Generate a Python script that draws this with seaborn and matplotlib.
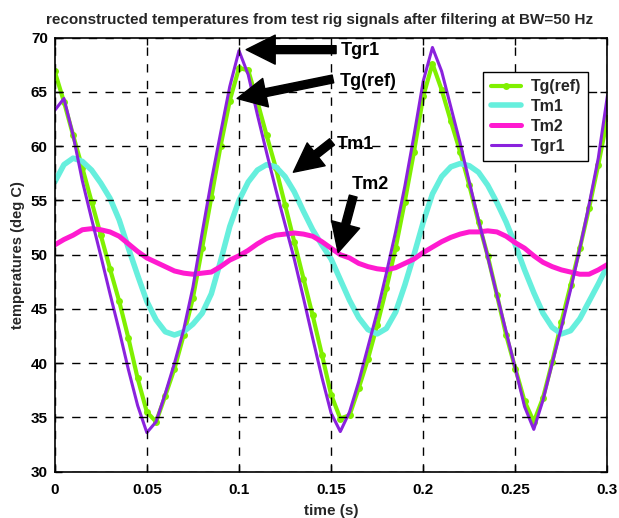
import numpy as np
import pandas as pd
import matplotlib
matplotlib.use("Agg")
import matplotlib.pyplot as plt
import seaborn as sns

# ---------------- data ----------------
time_s = [0.000, 0.005, 0.010, 0.015, 0.020, 0.025, 0.030, 0.035, 0.040, 0.045,
          0.050, 0.055, 0.060, 0.065, 0.070, 0.075, 0.080, 0.085, 0.090, 0.095,
          0.100, 0.105, 0.110, 0.115, 0.120, 0.125, 0.130, 0.135, 0.140, 0.145,
          0.150, 0.155, 0.160, 0.165, 0.170, 0.175, 0.180, 0.185, 0.190, 0.195,
          0.200, 0.205, 0.210, 0.215, 0.220, 0.225, 0.230, 0.235, 0.240, 0.245,
          0.250, 0.255, 0.260, 0.265, 0.270, 0.275, 0.280, 0.285, 0.290, 0.295,
          0.300]

tg_ref = [66.9, 64.1, 61.0, 58.0, 54.9, 51.8, 48.7, 45.7, 42.3, 38.6,
          35.5, 34.6, 37.0, 39.5, 42.6, 46.0, 50.6, 55.3, 60.0, 64.2,
          67.2, 67.0, 64.1, 61.0, 58.0, 54.6, 51.2, 47.8, 44.4, 40.8,
          37.1, 34.9, 35.2, 37.7, 40.4, 43.5, 46.9, 50.6, 54.9, 59.5,
          64.6, 67.6, 65.2, 62.3, 59.5, 56.4, 53.0, 49.9, 46.3, 42.6,
          39.5, 36.5, 34.6, 36.8, 40.1, 43.8, 47.2, 50.6, 54.3, 58.3,
          62.6]

tm1 = [56.7, 58.3, 58.9, 58.6, 57.8, 56.6, 55.2, 53.2, 50.6, 48.1,
       45.7, 44.0, 42.9, 42.6, 42.9, 43.6, 44.6, 46.4, 49.4, 52.6,
       55.0, 56.7, 57.8, 58.3, 58.1, 57.2, 55.8, 54.0, 52.3, 50.9,
       49.6, 47.7, 45.8, 44.2, 43.1, 42.7, 43.2, 44.7, 47.2, 50.0,
       53.0, 55.6, 57.2, 58.1, 58.4, 58.2, 57.6, 56.4, 54.8, 53.0,
       50.9, 48.6, 46.5, 44.6, 43.3, 42.7, 43.0, 44.1, 45.7, 47.3,
       49.0]

tm2 = [50.9, 51.4, 51.8, 52.3, 52.4, 52.3, 52.1, 51.7, 51.0, 50.3,
       49.7, 49.3, 48.9, 48.5, 48.3, 48.2, 48.3, 48.4, 48.9, 49.5,
       49.9, 50.4, 51.0, 51.5, 51.8, 51.9, 52.0, 51.9, 51.7, 51.2,
       50.6, 50.0, 49.7, 49.2, 48.9, 48.7, 48.6, 48.8, 49.2, 49.6,
       50.2, 50.7, 51.2, 51.6, 51.9, 52.1, 52.1, 52.2, 52.1, 51.7,
       51.1, 50.6, 49.9, 49.3, 48.9, 48.6, 48.4, 48.2, 48.2, 48.6,
       49.1]

tgr1 = [63.3, 64.4, 61.0, 56.8, 53.3, 49.9, 46.4, 43.0, 39.4, 36.1,
        33.6, 34.6, 37.2, 40.0, 43.1, 47.0, 52.0, 56.8, 61.2, 65.5,
        68.8, 66.6, 62.9, 59.4, 56.0, 52.8, 49.6, 46.0, 42.3, 38.7,
        35.4, 33.7, 35.5, 38.3, 41.5, 44.7, 48.3, 52.1, 56.3, 61.0,
        66.0, 69.1, 66.9, 63.6, 60.3, 56.7, 53.2, 49.8, 46.3, 42.9,
        39.5, 36.0, 33.9, 36.6, 40.0, 43.3, 46.8, 50.6, 54.6, 58.9,
        64.7]

x_ticks = [0, 0.05, 0.1, 0.15, 0.2, 0.25, 0.3]
x_tick_labels = ["0", "0.05", "0.1", "0.15", "0.2", "0.25", "0.3"]
y_ticks = [30, 35, 40, 45, 50, 55, 60, 65, 70]

df = pd.DataFrame({"time": time_s, "Tg(ref)": tg_ref, "Tm1": tm1,
                   "Tm2": tm2, "Tgr1": tgr1})

# ---------------- style ----------------
sns.set_theme(style="white")
plt.rcParams["font.family"] = ["Liberation Sans", "DejaVu Sans"]
plt.rcParams["font.weight"] = "bold"
plt.rcParams["axes.labelweight"] = "bold"
plt.rcParams["axes.titleweight"] = "bold"

fig = plt.figure(figsize=(6.19, 5.18), dpi=100)
ax = fig.add_axes([0.0884, 0.0894, 0.893, 0.8378])

c_green = "#80f000"
c_cyan = "#66efdd"
c_mag = "#ff1ad0"
c_purp = "#8a22dd"

sns.lineplot(data=df, x="time", y="Tg(ref)", ax=ax, color=c_green, lw=3.0,
             marker="o", markersize=5.0, markeredgewidth=0, label="Tg(ref)")
sns.lineplot(data=df, x="time", y="Tm1", ax=ax, color=c_cyan, lw=4.0,
             label="Tm1")
sns.lineplot(data=df, x="time", y="Tm2", ax=ax, color=c_mag, lw=3.6,
             label="Tm2")
sns.lineplot(data=df, x="time", y="Tgr1", ax=ax, color=c_purp, lw=2.2,
             label="Tgr1")

ax.set_xlim(0, 0.3)
ax.set_ylim(30, 70)
ax.set_xticks(x_ticks)
ax.set_xticklabels(x_tick_labels)
ax.set_yticks(y_ticks)
ax.grid(True, color="black", linestyle=(0, (6, 6)), linewidth=1.0)
ax.set_axisbelow(False)
for s in ax.spines.values():
    s.set_color("black")
    s.set_linewidth(1.2)
ax.tick_params(axis="both", which="both", direction="in", length=5, width=1,
               top=True, right=True, bottom=True, left=True,
               labelsize=11, colors="black")
ax.tick_params(axis="x", pad=8)
ax.tick_params(axis="y", pad=5)
for lab in ax.get_xticklabels() + ax.get_yticklabels():
    lab.set_fontweight("bold")

ax.set_xlabel("time (s)", fontsize=11, fontweight="bold", labelpad=5)
ax.set_ylabel("temperatures (deg C)", fontsize=10.5, fontweight="bold", labelpad=4)
ax.set_title("reconstructed temperatures from test rig signals after filtering at BW=50 Hz",
             fontsize=11, fontweight="bold", pad=10, x=0.48)

leg = ax.legend(loc="upper right", bbox_to_anchor=(0.965, 0.921), fontsize=11.5,
                frameon=True, fancybox=False, edgecolor="black", framealpha=1,
                handlelength=1.9, labelspacing=0.3, borderpad=0.45,
                handletextpad=0.6, numpoints=1, borderaxespad=0)
leg.get_frame().set_linewidth(1.0)
for txt in leg.get_texts():
    txt.set_fontweight("bold")

# ---------------- annotations ----------------
arrow_kw = dict(arrowstyle="simple,head_length=1.1,head_width=1.1,tail_width=0.3",
                color="black", mutation_scale=19, shrinkA=0, shrinkB=0)
notes = [
    ("Tgr1", (0.1039, 68.9), (0.1527, 68.9), (0.155, 68.8)),
    ("Tg(ref)", (0.0990, 64.4), (0.1510, 66.2), (0.1545, 66.0)),
    ("Tm1", (0.1295, 57.6), (0.1505, 60.4), (0.1530, 60.2)),
    ("Tm2", (0.1538, 50.2), (0.1620, 55.4), (0.1610, 56.5)),
]
for name, head, tail, txt in notes:
    ax.annotate("", xy=head, xytext=tail, arrowprops=arrow_kw)
    ax.text(txt[0], txt[1], name, fontsize=13, fontweight="bold",
            ha="left", va="center", color="black")

fig.savefig("out.png", dpi=100)
